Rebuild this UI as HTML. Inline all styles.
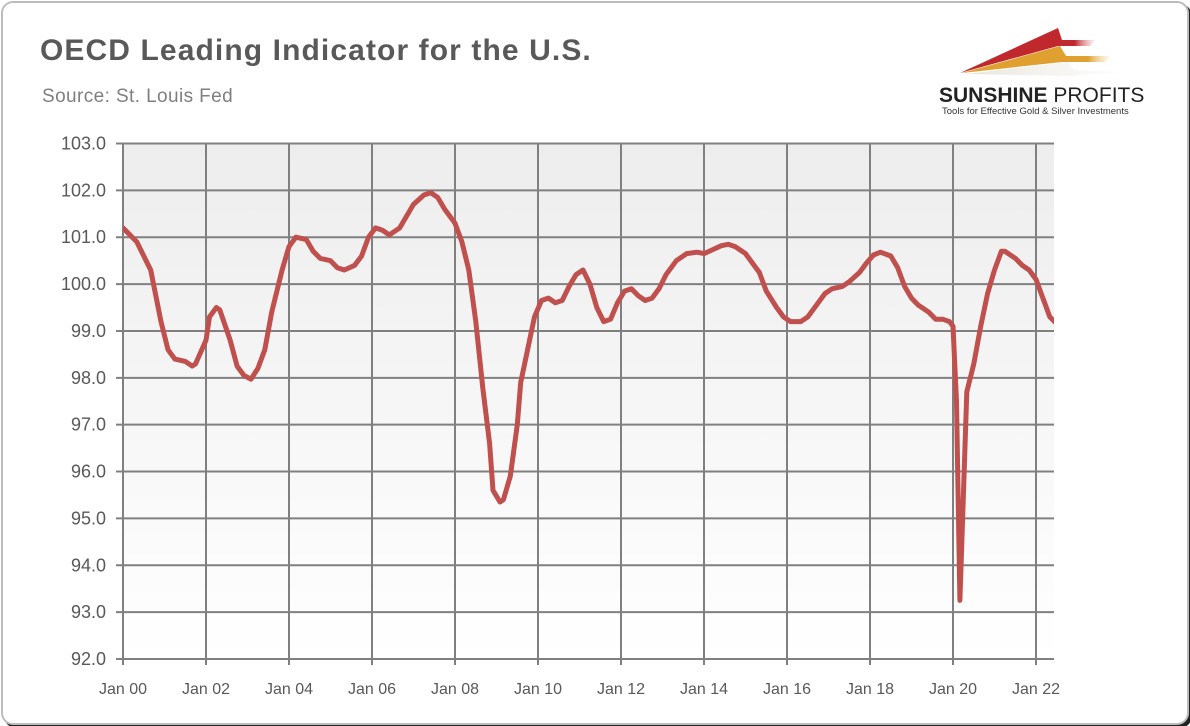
<!DOCTYPE html>
<html><head><meta charset="utf-8">
<style>
html,body{margin:0;padding:0;width:1190px;height:726px;overflow:hidden;background:#fff;}
body{position:relative;font-family:"Liberation Sans",sans-serif;}
#card{position:absolute;left:1px;top:1px;width:1184px;height:720px;border:2px solid #bdbdbd;border-radius:12px;background:#fff;box-shadow:3px 3px 0 #222;}
#title{position:absolute;left:40px;top:34px;font-size:30px;font-weight:bold;color:#595959;letter-spacing:1.1px;}
#source{position:absolute;left:42px;top:86px;font-size:19px;color:#7f7f7f;letter-spacing:0.4px;}
svg{position:absolute;left:0;top:0;}
</style></head><body>
<div id="card"></div>
<div id="title">OECD Leading Indicator for the U.S.</div>
<div id="source">Source: St. Louis Fed</div>
<svg id="logo" width="1190" height="726">
<defs>
<linearGradient id="g1" x1="0" x2="1"><stop offset="0" stop-color="#c0282d"/><stop offset="0.85" stop-color="#c0282d"/><stop offset="1" stop-color="#f3c8c8" stop-opacity="0.3"/></linearGradient>
<linearGradient id="g2" x1="0" x2="1"><stop offset="0" stop-color="#e0a030"/><stop offset="0.85" stop-color="#e0a030"/><stop offset="1" stop-color="#f8e6c0" stop-opacity="0.3"/></linearGradient>
<linearGradient id="g3" x1="0" x2="1"><stop offset="0" stop-color="#e8e4d8"/><stop offset="1" stop-color="#f4f4f4" stop-opacity="0.3"/></linearGradient>
</defs>
<polygon points="960,73 1058,28 1062,40 1095,40 1090,46 1058,46" fill="url(#g1)"/>
<polygon points="962,73 1060,46 1066,56 1110,56 1105,62 1062,62" fill="url(#g2)"/>
<polygon points="966,74 1068,62 1074,70 1120,72 1070,76" fill="url(#g3)"/>
<text x="939" y="102" font-family="Liberation Sans, sans-serif" font-size="21" font-weight="bold" fill="#222">SUNSHINE <tspan font-weight="normal">PROFITS</tspan></text>
<text x="942" y="114" font-family="Liberation Sans, sans-serif" font-size="9.5" fill="#333">Tools for Effective Gold &amp; Silver Investments</text>
</svg>
<svg id="chart" width="1190" height="726"></svg>
<script>
const months=[0,4,8,11,13,15,18,20,21,24,25,27,28,31,33,35,37,39,41,43,46,48,50,53,55,57,60,62,64,67,69,71,73,75,77,80,82,84,87,89,91,93,96,98,100,102,104,106,107,109,110,112,114,115,117,119,121,123,125,127,129,131,133,135,137,139,141,143,145,147,149,151,153,155,157,160,163,166,168,171,173,175,177,180,182,184,186,189,191,193,196,198,200,203,205,208,210,213,215,217,219,222,224,226,228,230,233,235,237,239,240,241,242,243,244,246,248,250,252,254,255,258,260,262,264,266,268,270];
const values=[101.2,100.9,100.3,99.2,98.6,98.4,98.35,98.25,98.3,98.8,99.3,99.5,99.45,98.8,98.25,98.05,97.97,98.2,98.6,99.4,100.3,100.8,101.0,100.95,100.7,100.55,100.5,100.35,100.3,100.4,100.6,101.0,101.2,101.15,101.05,101.2,101.45,101.7,101.9,101.95,101.85,101.6,101.3,100.9,100.3,99.2,97.8,96.6,95.6,95.35,95.4,95.9,97.0,97.9,98.6,99.3,99.65,99.7,99.6,99.65,99.95,100.2,100.3,100.0,99.5,99.2,99.25,99.6,99.85,99.9,99.75,99.65,99.7,99.9,100.2,100.5,100.65,100.68,100.65,100.75,100.82,100.85,100.8,100.65,100.45,100.25,99.85,99.5,99.3,99.2,99.2,99.3,99.5,99.8,99.9,99.95,100.05,100.25,100.45,100.62,100.68,100.6,100.35,99.95,99.7,99.55,99.4,99.25,99.25,99.2,99.1,97.5,93.25,95.5,97.7,98.3,99.1,99.8,100.3,100.7,100.7,100.55,100.4,100.3,100.1,99.7,99.3,99.15];
const yTicks=[92,93,94,95,96,97,98,99,100,101,102,103];
const xTickMonths=[0,24,48,72,96,120,144,168,192,216,240,264];
const xTickLabels=["Jan 00","Jan 02","Jan 04","Jan 06","Jan 08","Jan 10","Jan 12","Jan 14","Jan 16","Jan 18","Jan 20","Jan 22"];
const L=123,R=1054,T=143.5,B=659,yMin=92,yMax=103;
const xs=m=>L+m*(83/24);
const ys=v=>B-(v-yMin)/(yMax-yMin)*(B-T);
const svg=document.getElementById('chart');
const NS='http://www.w3.org/2000/svg';
function mk(t,a){const e=document.createElementNS(NS,t);for(const k in a)e.setAttribute(k,a[k]);svg.appendChild(e);return e;}
const defs=mk('defs',{});
defs.innerHTML='<linearGradient id="bg" x1="0" y1="0" x2="0" y2="1"><stop offset="0" stop-color="#ededed"/><stop offset="1" stop-color="#ffffff"/></linearGradient><clipPath id="cp"><rect x="'+L+'" y="0" width="'+(R-L)+'" height="726"/></clipPath>';
const bgr=mk('rect',{x:L,y:T,width:R-L,height:B-T,fill:'url(#bg)'});


yTicks.forEach(v=>{
  const g=mk('line',{x1:L-7,x2:R,y1:ys(v),y2:ys(v),stroke:'#808080','stroke-width':2});
  
  
  const t=mk('text',{x:L-17,y:ys(v)+6,'text-anchor':'end','font-size':18,fill:'#595959','font-family':'Liberation Sans, sans-serif'});
  t.textContent=v.toFixed(1);
  
  
});
xTickMonths.forEach((m,i)=>{
  const g=mk('line',{x1:xs(m),x2:xs(m),y1:T,y2:B+6,stroke:'#808080','stroke-width':2});
  
  
  const t=mk('text',{x:xs(m),y:B+35,'text-anchor':'middle','font-size':16,fill:'#595959','font-family':'Liberation Sans, sans-serif'});
  t.textContent=xTickLabels[i];
  
  
});
const pts=months.map((m,i)=>xs(m).toFixed(1)+','+ys(values[i]).toFixed(1)).join(' ');
const line=mk('polyline',{points:pts,fill:'none',stroke:'#c0504d','stroke-width':5,'stroke-linejoin':'round','stroke-linecap':'round','clip-path':'url(#cp)'});


</script>
</body></html>
